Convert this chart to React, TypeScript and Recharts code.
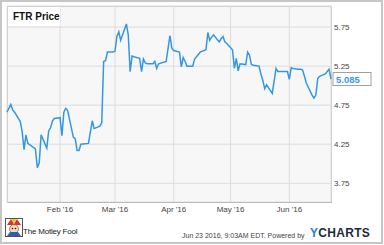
import { LineChart, Line, XAxis, YAxis, CartesianGrid, ReferenceDot } from 'recharts';

// FTR daily closes, Jan 4 - Jun 23 2016
const dates = [
  '2016-01-04', '2016-01-06', '2016-01-07', '2016-01-08', '2016-01-11', '2016-01-12', '2016-01-13',
  '2016-01-14', '2016-01-15', '2016-01-19', '2016-01-20', '2016-01-21', '2016-01-22', '2016-01-25',
  '2016-01-26', '2016-01-27', '2016-01-28', '2016-01-29', '2016-02-01', '2016-02-02', '2016-02-03',
  '2016-02-04', '2016-02-05', '2016-02-08', '2016-02-09', '2016-02-10', '2016-02-11', '2016-02-12',
  '2016-02-16', '2016-02-18', '2016-02-19', '2016-02-22', '2016-02-23', '2016-02-24', '2016-02-25',
  '2016-02-26', '2016-02-29', '2016-03-01', '2016-03-02', '2016-03-03', '2016-03-04', '2016-03-07',
  '2016-03-08', '2016-03-09', '2016-03-10', '2016-03-11', '2016-03-14', '2016-03-15', '2016-03-16',
  '2016-03-17', '2016-03-18', '2016-03-21', '2016-03-22', '2016-03-23', '2016-03-24', '2016-03-28',
  '2016-03-30', '2016-03-31', '2016-04-01', '2016-04-04', '2016-04-05', '2016-04-06', '2016-04-07',
  '2016-04-08', '2016-04-11', '2016-04-12', '2016-04-13', '2016-04-14', '2016-04-15', '2016-04-18',
  '2016-04-19', '2016-04-20', '2016-04-21', '2016-04-22', '2016-04-25', '2016-04-26', '2016-04-27',
  '2016-04-28', '2016-04-29', '2016-05-02', '2016-05-03', '2016-05-04', '2016-05-05', '2016-05-06',
  '2016-05-09', '2016-05-10', '2016-05-11', '2016-05-12', '2016-05-13', '2016-05-16', '2016-05-17',
  '2016-05-18', '2016-05-19', '2016-05-20', '2016-05-23', '2016-05-25', '2016-05-26', '2016-05-27',
  '2016-05-31', '2016-06-01', '2016-06-02', '2016-06-03', '2016-06-06', '2016-06-07', '2016-06-08',
  '2016-06-09', '2016-06-10', '2016-06-13', '2016-06-14', '2016-06-15', '2016-06-16', '2016-06-17',
  '2016-06-20', '2016-06-21', '2016-06-22', '2016-06-23',
];

const prices = [
  4.66, 4.76, 4.69, 4.66, 4.54, 4.41, 4.18,
  4.37, 4.26, 4.19, 3.95, 4.01, 4.37, 4.2,
  4.42, 4.46, 4.55, 4.58, 4.59, 4.36, 4.66,
  4.71, 4.68, 4.34, 4.32, 4.17, 4.17, 4.25,
  4.26, 4.55, 4.45, 4.48, 4.52, 5.31, 5.32,
  5.43, 5.43, 5.44, 5.63, 5.69, 5.58, 5.79,
  5.65, 5.18, 5.38, 5.37, 5.35, 5.18, 5.34,
  5.29, 5.28, 5.28, 5.31, 5.22, 5.28, 5.31,
  5.64, 5.48, 5.45, 5.43, 5.24, 5.36, 5.31,
  5.25, 5.25, 5.34, 5.37, 5.4, 5.43, 5.46,
  5.68, 5.58, 5.62, 5.65, 5.56, 5.6, 5.63,
  5.56, 5.54, 5.46, 5.22, 5.35, 5.19, 5.28,
  5.27, 5.43, 5.39, 5.27, 5.26, 5.25, 5.15,
  5.07, 4.96, 5.01, 4.9, 5.22, 5.18, 5.18,
  5.18, 5.08, 5.23, 5.22, 5.21, 5.21, 5.2,
  5.12, 5.03, 4.88, 4.84, 4.88, 5.09, 5.12,
  5.15, 5.18, 5.21, 5.085,
];

const tickDates = ['2016-02-01', '2016-03-01', '2016-04-01', '2016-05-01', '2016-06-01'];
const tickLabels = ["Feb '16", "Mar '16", "Apr '16", "May '16", "Jun '16"];
const yTicks = [3.75, 4.25, 4.75, 5.25, 5.75];

const toTime = (s: string) => new Date(s + 'T00:00:00Z').getTime();

const data = dates.map((d, i) => ({ t: toTime(d), price: prices[i] }));
const xTicks = tickDates.map(toTime);
const last = data[data.length - 1];

const FONT = '"Liberation Sans", Arial, sans-serif';
const BLUE = '#3497e6';

function LastValue(props: any) {
  const { cx, cy } = props;
  if (cx == null || cy == null) return null;
  return (
    <g>
      <rect x={cx + 2} y={cy - 6.5} width={38} height={13} fill="#fff" stroke="#a0a0a0" strokeWidth={1} />
      <text x={cx + 5} y={cy + 3.5} fontSize={9.5} fontWeight="bold" fill={BLUE} fontFamily={FONT}>
        {last.price.toFixed(3)}
      </text>
    </g>
  );
}

function FoolLogo() {
  return (
    <svg width={18} height={19} style={{ position: 'absolute', left: 5, top: 218 }}>
      <rect x={0.5} y={0.5} width={17} height={18} fill="#fff" stroke="#555" />
      <path d="M2 7 L6 1 L9 6 L12 1 L16 7 Z" fill="#d8322a" />
      <path d="M6 1 L9 6 L12 1 Z" fill="#f2c230" />
      <circle cx={9} cy={11} r={4.5} fill="#f4d6b0" stroke="#555" strokeWidth={0.6} />
      <circle cx={7.5} cy={10.5} r={0.8} fill="#222" />
      <circle cx={10.5} cy={10.5} r={0.8} fill="#222" />
      <path d="M2 18 L5 14 L13 14 L16 18 Z" fill="#2c5fb0" />
    </svg>
  );
}

export default function App() {
  return (
    <div style={{ position: 'fixed', left: 0, top: 0, width: 384, height: 245, background: '#fff', fontFamily: FONT }}>
      <div style={{ position: 'absolute', left: 0, top: 0, width: 383, height: 244, border: '2px solid #c6c6c6', boxSizing: 'border-box' }} />
      <div style={{ position: 'absolute', left: 7, top: 6, width: 325, height: 197, background: '#f7f7f7', border: '1px solid #c8c8c8', borderBottom: '1px solid #9a9a9a', boxSizing: 'border-box' }} />
      <div style={{ position: 'absolute', left: 0, top: 0 }}>
        <LineChart width={384} height={245} data={data} margin={{ top: 6, right: 0, left: 7, bottom: 23 }}>
          <CartesianGrid stroke="#dcdcdc" strokeWidth={1} />
          <XAxis
            dataKey="t"
            type="number"
            scale="time"
            domain={['dataMin', 'dataMax']}
            ticks={xTicks}
            tickFormatter={(v: number) => tickLabels[xTicks.indexOf(v)]}
            axisLine={false}
            tickLine={false}
            tickSize={0}
            tickMargin={4}
            height={20}
            tick={{ fontSize: 8, fill: '#444', fontFamily: FONT }}
          />
          <YAxis
            orientation="right"
            domain={[3.51, 6.02]}
            ticks={yTicks}
            tickFormatter={(v: number) => v.toFixed(2)}
            axisLine={false}
            tickLine={false}
            tickSize={0}
            tickMargin={3}
            width={53}
            tick={{ fontSize: 8, fill: '#444', fontFamily: FONT }}
          />
          <Line type="linear" dataKey="price" stroke={BLUE} strokeWidth={1.5} dot={false} isAnimationActive={false} />
          <ReferenceDot x={last.t} y={last.price} r={0} ifOverflow="visible" shape={LastValue} />
        </LineChart>
      </div>
      <div style={{ position: 'absolute', left: 8, top: 7, width: 52, height: 19, background: '#fff', fontSize: 10, fontWeight: 'bold', color: '#111', lineHeight: '19px', paddingLeft: 5, boxSizing: 'border-box' }}>
        FTR Price
      </div>
      <FoolLogo />
      <div style={{ position: 'absolute', left: 23, top: 227, fontSize: 8, color: '#222', letterSpacing: -0.2, lineHeight: '10px' }}>
        The Motley Fool
      </div>
      <div style={{ position: 'absolute', left: 182, top: 231, fontSize: 7, color: '#444', lineHeight: '9px', whiteSpace: 'nowrap' }}>
        Jun 23 2016, 9:03AM EDT. Powered by
      </div>
      <div style={{ position: 'absolute', left: 310, top: 227, fontSize: 12, fontWeight: 'bold', lineHeight: '12px', letterSpacing: 0.3, whiteSpace: 'nowrap' }}>
        <span style={{ color: '#1f80e0' }}>Y</span>
        <span style={{ color: '#1d2b3b' }}>CHARTS</span>
      </div>
    </div>
  );
}
